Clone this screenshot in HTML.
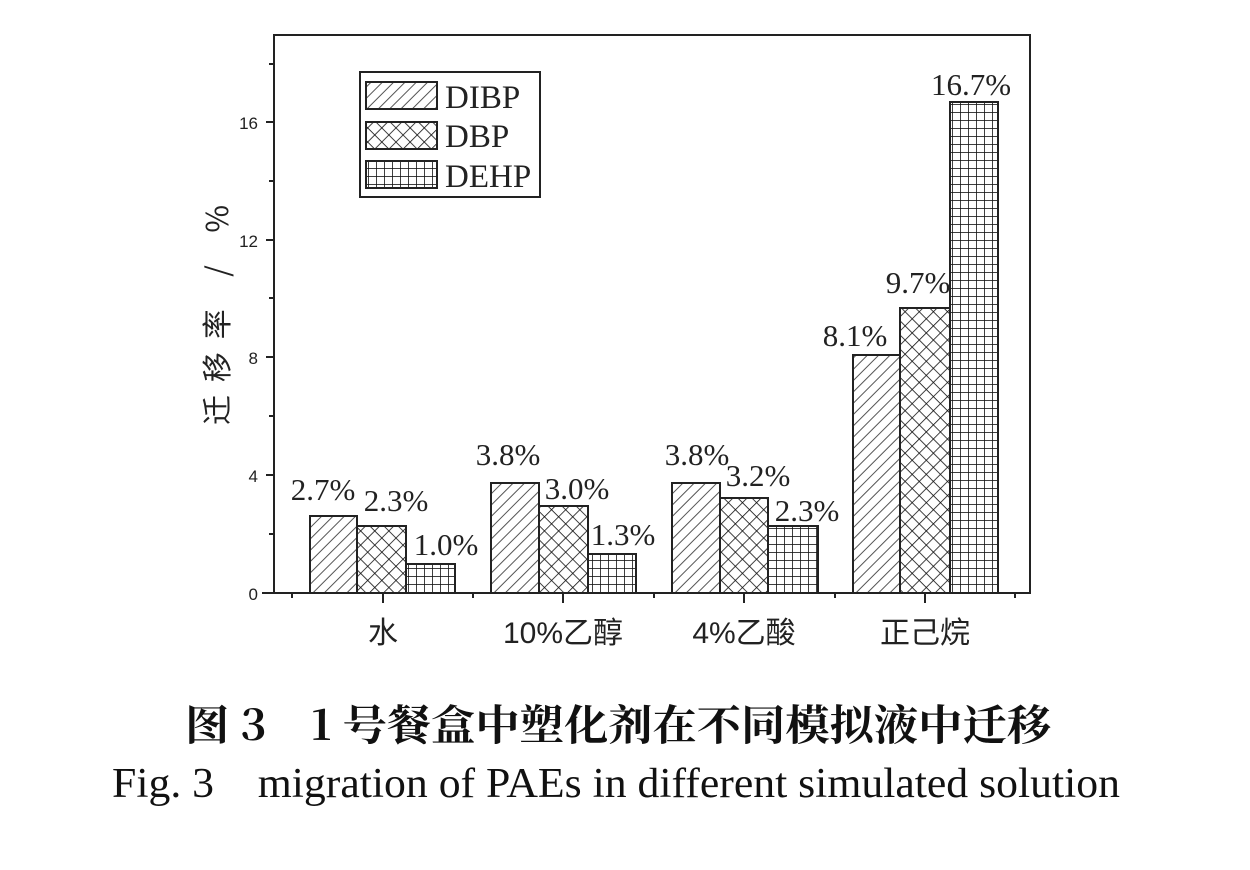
<!DOCTYPE html>
<html><head><meta charset="utf-8"><style>
html,body{margin:0;padding:0;background:#fff;width:1250px;height:870px;overflow:hidden}
</style></head><body>
<svg width="1250" height="870" xmlns="http://www.w3.org/2000/svg">
<defs>
<pattern id="diag" width="8" height="8" patternUnits="userSpaceOnUse" patternTransform="rotate(45)">
<rect width="8" height="8" fill="#fff"/><line x1="0" y1="0" x2="0" y2="8" stroke="#555" stroke-width="2"/></pattern>
<pattern id="cross" width="10" height="10" patternUnits="userSpaceOnUse" patternTransform="rotate(45)">
<rect width="10" height="10" fill="#fff"/><line x1="0" y1="0" x2="0" y2="10" stroke="#111" stroke-width="1.6"/><line x1="0" y1="0" x2="10" y2="0" stroke="#111" stroke-width="1.6"/></pattern>
<pattern id="grid" width="8" height="8" patternUnits="userSpaceOnUse">
<rect width="8" height="8" fill="#fff"/><line x1="0" y1="0" x2="0" y2="8" stroke="#111" stroke-width="1.6"/><line x1="0" y1="0" x2="8" y2="0" stroke="#111" stroke-width="1.6"/></pattern>
</defs>
<g stroke="#222" stroke-width="2" fill="none">
<rect x="274" y="35" width="756" height="558"/>
<line x1="262" y1="593" x2="274" y2="593"/>
</g>
<g stroke="#222" stroke-width="2">
<line x1="266" y1="475" x2="274" y2="475"/><line x1="266" y1="357" x2="274" y2="357"/>
<line x1="266" y1="240" x2="274" y2="240"/><line x1="266" y1="122" x2="274" y2="122"/>
<line x1="269" y1="534" x2="274" y2="534"/><line x1="269" y1="416" x2="274" y2="416"/>
<line x1="269" y1="298" x2="274" y2="298"/><line x1="269" y1="181" x2="274" y2="181"/><line x1="269" y1="64" x2="274" y2="64"/>
<line x1="383" y1="593" x2="383" y2="603"/><line x1="563" y1="593" x2="563" y2="603"/>
<line x1="744" y1="593" x2="744" y2="603"/><line x1="925" y1="593" x2="925" y2="603"/>
<line x1="292" y1="593" x2="292" y2="598"/><line x1="473" y1="593" x2="473" y2="598"/>
<line x1="654" y1="593" x2="654" y2="598"/><line x1="835" y1="593" x2="835" y2="598"/><line x1="1015" y1="593" x2="1015" y2="598"/>
</g>
<g font-family="Liberation Sans, sans-serif" font-size="17" fill="#222" text-anchor="end">
<text x="258" y="600">0</text><text x="258" y="482">4</text><text x="258" y="364">8</text>
<text x="258" y="247">12</text><text x="258" y="129">16</text>
</g>
<g stroke="#222" stroke-width="2">
<rect x="310" y="516" width="47" height="77" fill="url(#diag)"/>
<rect x="357" y="526" width="49" height="67" fill="url(#cross)"/>
<rect x="406" y="564" width="49" height="29" fill="url(#grid)"/>
<rect x="491" y="483" width="48" height="110" fill="url(#diag)"/>
<rect x="539" y="506" width="49" height="87" fill="url(#cross)"/>
<rect x="588" y="554" width="48" height="39" fill="url(#grid)"/>
<rect x="672" y="483" width="48" height="110" fill="url(#diag)"/>
<rect x="720" y="498" width="48" height="95" fill="url(#cross)"/>
<rect x="768" y="526" width="50" height="67" fill="url(#grid)"/>
<rect x="853" y="355" width="47" height="238" fill="url(#diag)"/>
<rect x="900" y="308" width="50" height="285" fill="url(#cross)"/>
<rect x="950" y="102" width="48" height="491" fill="url(#grid)"/>
</g>
<g font-family="Liberation Serif, serif" font-size="31" fill="#222" text-anchor="middle">
<text x="323" y="500">2.7%</text><text x="396" y="511">2.3%</text><text x="446" y="555">1.0%</text>
<text x="508" y="465">3.8%</text><text x="577" y="499">3.0%</text><text x="623" y="545">1.3%</text>
<text x="697" y="465">3.8%</text><text x="758" y="486">3.2%</text><text x="807" y="521">2.3%</text>
<text x="855" y="346">8.1%</text><text x="918" y="293">9.7%</text><text x="971" y="95">16.7%</text>
</g>
<rect x="360" y="72" width="180" height="125" fill="#fff" stroke="#222" stroke-width="2"/>
<g stroke="#222" stroke-width="2">
<rect x="366" y="82" width="71" height="27" fill="url(#diag)"/>
<rect x="366" y="122" width="71" height="27" fill="url(#cross)"/>
<rect x="366" y="161" width="71" height="27" fill="url(#grid)"/>
</g>
<g font-family="Liberation Serif, serif" font-size="33" fill="#222">
<text x="445" y="108">DIBP</text><text x="445" y="147">DBP</text><text x="445" y="187">DEHP</text>
</g>
<g font-family="Liberation Sans, 'Noto Sans CJK SC', sans-serif" font-size="30" fill="#222" text-anchor="middle">
<text x="383" y="643">水</text><text x="563" y="643">10%乙醇</text><text x="744" y="643">4%乙酸</text><text x="925" y="643">正己烷</text>
</g>
<text transform="translate(228,425) rotate(-90)" font-family="'Noto Sans CJK SC', sans-serif" font-size="30" fill="#222" textLength="220" lengthAdjust="spacing">迁移率 / %</text>
<text x="185" y="740" font-family="'Noto Serif CJK SC', serif" font-weight="bold" font-size="42" fill="#111" textLength="866" lengthAdjust="spacingAndGlyphs">图 3　1 号餐盒中塑化剂在不同模拟液中迁移</text>
<text x="112" y="797" font-family="Liberation Serif, serif" font-size="42" fill="#111" textLength="1008" lengthAdjust="spacingAndGlyphs">Fig. 3　migration of PAEs in different simulated solution</text>
</svg>
</body></html>
